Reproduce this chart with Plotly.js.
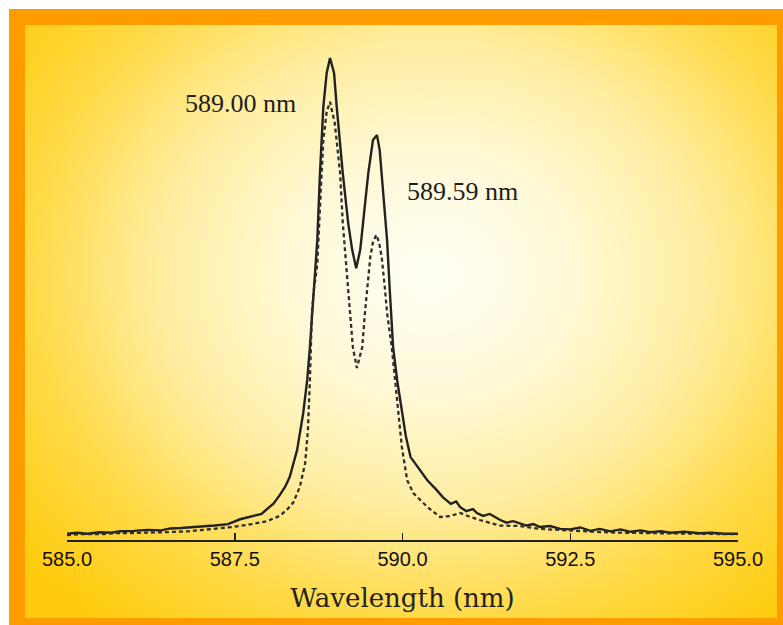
<!DOCTYPE html>
<html>
<head>
<meta charset="utf-8">
<script src="https://cdn.plot.ly/plotly-3.0.1.min.js"></script>
<style>
  html, body { margin: 0; padding: 0; width: 783px; height: 625px; overflow: hidden; background: #ffffff; }
  #frame { position: absolute; left: 9px; top: 9px; width: 774px; height: 616px; background: #ff9c00; }
  #inner { position: absolute; left: 25px; top: 25px; width: 752px; height: 593px;
    background: radial-gradient(ellipse 70% 76% at 54% 42%, #fffff6 0%, #fff9d8 26%, #ffeda0 52%, #ffda48 76%, #ffcb0c 100%); }
  #chart { position: absolute; left: 0; top: 0; width: 783px; height: 625px; }
</style>
</head>
<body>
<div id="frame"></div>
<div id="inner"></div>
<div id="chart"></div>
<script>
// Wavelength (nm) and relative intensity
const solidWavelength = [585.00,585.15,585.30,585.49,585.65,585.80,586.00,586.20,586.40,586.54,586.70,586.85,587.00,587.20,587.40,587.58,587.75,587.90,587.98,588.08,588.17,588.25,588.32,588.43,588.52,588.58,588.62,588.67,588.73,588.77,588.82,588.87,588.92,588.98,589.02,589.11,589.19,589.25,589.31,589.37,589.44,589.49,589.56,589.62,589.66,589.69,589.77,589.81,589.86,589.92,589.99,590.05,590.12,590.22,590.37,590.50,590.60,590.72,590.80,590.86,590.95,591.05,591.11,591.20,591.30,591.45,591.55,591.65,591.75,591.85,591.95,592.05,592.20,592.35,592.50,592.65,592.80,592.94,593.10,593.25,593.40,593.55,593.69,593.85,594.00,594.20,594.43,594.60,594.80,595.00];
const solidIntensity = [1.3,1.5,1.3,1.6,1.5,1.8,1.9,2.1,2.0,2.4,2.5,2.6,2.8,3.0,3.3,4.3,4.9,5.4,6.4,7.6,9.3,11.0,13.1,18.7,26.3,33.2,40.0,49.8,62.2,76.1,89.8,96.9,100,96.9,89.8,76.1,65.8,60.2,56.4,60.2,69.1,76.1,83.0,84.0,80.9,76.1,62.2,51.9,40.0,33.2,26.3,21.5,17.2,15.2,12.4,10.5,8.9,7.5,8.0,6.8,6.0,6.4,5.6,5.0,5.4,4.2,3.6,3.9,3.5,3.0,3.3,2.7,2.9,2.3,2.2,2.6,1.9,2.3,1.8,2.2,1.7,2.0,1.6,1.8,1.5,1.7,1.4,1.5,1.3,1.3];

const dashedWavelength = [585.00,585.20,585.49,585.70,585.98,586.30,586.54,586.80,586.98,587.20,587.47,587.75,587.98,588.17,588.30,588.37,588.47,588.55,588.59,588.62,588.65,588.68,588.73,588.77,588.82,588.87,588.92,588.99,589.07,589.11,589.17,589.22,589.26,589.32,589.40,589.44,589.49,589.52,589.56,589.61,589.65,589.69,589.74,589.77,589.84,589.89,589.93,589.99,590.07,590.16,590.37,590.56,590.71,590.86,591.01,591.15,591.45,591.75,592.05,592.35,592.65,592.94,593.30,593.69,594.00,594.43,594.70,595.00];
const dashedIntensity = [1.0,1.2,1.2,1.4,1.45,1.5,1.66,1.8,2.07,2.3,2.7,3.3,3.9,5.0,6.6,7.7,11.0,16.0,22.8,33.2,47.1,52.0,57.1,69.1,83.0,88.8,90.9,86.5,76.1,65.8,55.4,47.1,40.0,35.7,40.0,47.1,53.9,58.7,61.8,63.3,61.8,58.7,51.9,47.1,40.0,33.2,26.3,19.3,12.4,9.75,6.85,4.77,4.98,5.60,4.77,4.15,3.0,2.9,2.3,2.07,1.8,1.66,1.5,1.45,1.35,1.24,1.2,1.2];

const tickValues = [585.0, 587.5, 590.0, 592.5, 595.0];
const tickLabels = ["585.0", "587.5", "590.0", "592.5", "595.0"];
const lineLabels = ["589.00 nm", "589.59 nm"];
const labelWavelength = [587.58, 590.90];
const labelIntensity = [90.5, 72.2];
const axisTitle = "Wavelength (nm)";

const traces = [
  { x: solidWavelength, y: solidIntensity, type: "scatter", mode: "lines",
    line: { color: "#222222", width: 2.4, shape: "linear" }, hoverinfo: "skip" },
  { x: dashedWavelength, y: dashedIntensity, type: "scatter", mode: "lines",
    line: { color: "#2e2e2e", width: 2.3, dash: "4px,3px" }, hoverinfo: "skip" }
];

const layout = {
  width: 783, height: 625,
  margin: { l: 67, r: 45, t: 40, b: 85 },
  paper_bgcolor: "rgba(0,0,0,0)",
  plot_bgcolor: "rgba(0,0,0,0)",
  showlegend: false,
  xaxis: {
    range: [585, 595],
    tickmode: "array", tickvals: tickValues, ticktext: tickLabels,
    ticks: "inside", ticklen: 7, tickwidth: 1.5, tickcolor: "#222",
    showline: true, linecolor: "#222", linewidth: 2,
    showgrid: false, zeroline: false,
    tickfont: { family: "Liberation Sans, Arial, sans-serif", size: 20, color: "#111" },
    title: { text: axisTitle, standoff: 20,
             font: { family: "DejaVu Serif, serif", size: 26, color: "#222" } },
    automargin: false
  },
  yaxis: {
    range: [0, 103.73], visible: false, showgrid: false, zeroline: false
  },
  annotations: lineLabels.map((t, i) => ({
    x: labelWavelength[i], y: labelIntensity[i], xref: "x", yref: "y",
    text: t, showarrow: false, xanchor: "center", yanchor: "middle",
    font: { family: "Liberation Serif, Times New Roman, serif", size: 26, color: "#1e1e1e" }
  }))
};

Plotly.newPlot("chart", traces, layout, { displayModeBar: false, staticPlot: true });
</script>
</body>
</html>
